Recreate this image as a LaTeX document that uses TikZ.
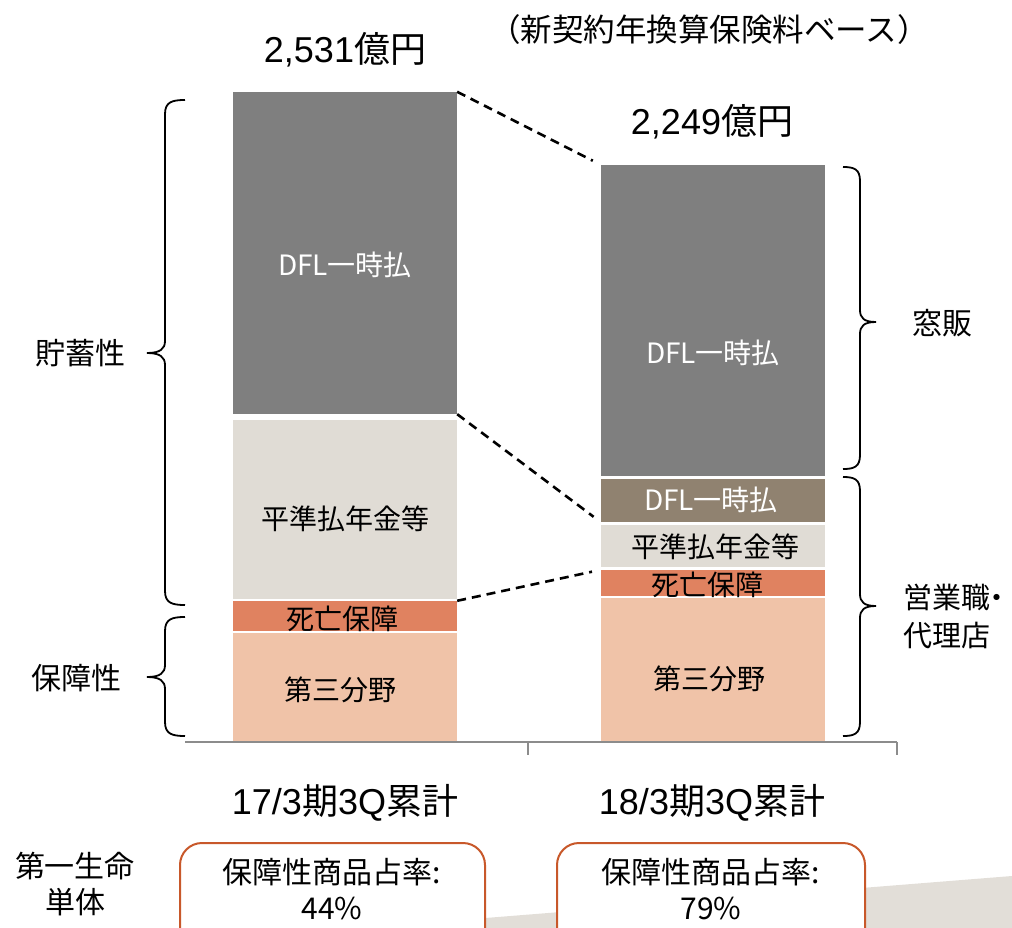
\documentclass[tikz,border=0pt]{standalone}
\usepackage{fontspec}
\setmainfont{Liberation Sans}
\newfontfamily\jp{Noto Sans CJK JP}
\definecolor{cgray}{HTML}{7F7F7F}
\definecolor{cbrown}{HTML}{908270}
\definecolor{clight}{HTML}{E0DCD5}
\definecolor{corange}{HTML}{E08260}
\definecolor{cpeach}{HTML}{F0C3A8}
\definecolor{cbox}{HTML}{C8582A}
\definecolor{cwedge}{HTML}{E2DED8}
\definecolor{caxis}{HTML}{8C8C8C}
\newcommand\bracL[3]{%
 \draw[bracestyle] (185,#1) .. controls (172,#1) and (165,#1+2) .. (165,#1+14) -- (165,#2-12) .. controls (165,#2-4) and (160,#2) .. (147,#2) .. controls (160,#2) and (165,#2+4) .. (165,#2+12) -- (165,#3-14) .. controls (165,#3-2) and (172,#3) .. (185,#3);}
\newcommand\bracR[3]{%
 \draw[bracestyle] (843,#1) .. controls (854,#1) and (860,#1+2) .. (860,#1+14) -- (860,#2-12) .. controls (860,#2-4) and (864,#2) .. (876,#2) .. controls (864,#2) and (860,#2+4) .. (860,#2+12) -- (860,#3-14) .. controls (860,#3-2) and (854,#3) .. (843,#3);}
\begin{document}
\begin{tikzpicture}[x=1pt,y=-1pt,
  bar/.style={rectangle,inner sep=0pt,minimum width=224pt,draw=none},
  lbl/.style={inner sep=0pt,font=\jp\fontsize{28}{32}\selectfont,text=black},
  side/.style={inner sep=0pt,font=\jp\fontsize{30}{36}\selectfont,align=center},
  big/.style={inner sep=0pt,font=\fontsize{36}{42}\selectfont},
  dashline/.style={black,line width=2.6pt,dash pattern=on 9pt off 6pt,shorten >=9pt},
  bracestyle/.style={black,line width=1.8pt},
  infobox/.style={draw=cbox,line width=2pt,fill=white,rounded corners=22pt}]
\useasboundingbox (0,0) rectangle (1012,928);
\clip (0,0) rectangle (1012,928);
% background wedge
\fill[cwedge] (360,928) -- (1012,876) -- (1012,940) -- (360,940) -- cycle;
% left bar
\node[bar,fill=cgray,minimum height=322pt] (LG) at (345,253) {};
\node[bar,fill=clight,minimum height=179pt] (LL) at (345,509.5) {};
\node[bar,fill=corange,minimum height=30pt] (LO) at (345,616) {};
\node[bar,fill=cpeach,minimum height=109pt] (LP) at (345,687.5) {};
% right bar
\node[bar,fill=cgray,minimum height=311pt] (RG) at (713,320.5) {};
\node[bar,fill=cbrown,minimum height=43pt] (RB) at (713,500.5) {};
\node[bar,fill=clight,minimum height=42pt] (RL) at (713,546) {};
\node[bar,fill=corange,minimum height=26pt] (RO) at (713,583) {};
\node[bar,fill=cpeach,minimum height=144pt] (RP) at (713,670) {};
% bar labels
\node[lbl,text=white] (tLG) at (345,265) {DFL一時払};
\node[lbl] (tLL) at (345,519) {平準払年金等};
\node[lbl] (tLO) at (342,619) {死亡保障};
\node[lbl] (tLP) at (340,690) {第三分野};
\node[lbl,text=white] (tRG) at (713,353) {DFL一時払};
\node[lbl,text=white] (tRB) at (711,500) {DFL一時払};
\node[lbl] (tRL) at (715,547) {平準払年金等};
\node[lbl] (tRO) at (707,585) {死亡保障};
\node[lbl] (tRP) at (709,679) {第三分野};
% dashed connectors
\draw[dashline] (LG.north east) -- (RG.north west);
\draw[dashline] (LG.south east) -- (RB.south west);
\draw[dashline] (LO.north east) -- (RO.north west);
% axis
\coordinate (ax0) at (185,742);
\coordinate (ax1) at (897,742);
\coordinate (tk1) at (528,742);
\coordinate (tk1b) at (528,755);
\coordinate (tk2b) at (897,755);
\draw[caxis,line width=2.2pt] (ax0) -- (ax1);
\draw[caxis,line width=1.5pt] (tk1) -- (tk1b);
\draw[caxis,line width=1.5pt] (ax1) -- (tk2b);
% braces
\bracL{100}{353}{605}
\bracL{617}{677}{736}
\bracR{167}{322}{469}
\bracR{477}{606}{736}
% side labels
\node[side] (s1) at (80,353) {貯蓄性};
\node[side] (s2) at (76,678) {保障性};
\node[side] (s3) at (942,323) {窓販};
\node[side,align=left,anchor=west,font=\jp\fontsize{29}{38}\selectfont] (s4) at (903,616) {営業職\kern-8pt・\\代理店};
% totals
\node[big] (tot1) at (345,50) {2,531{\jp 億円}};
\node[big] (tot2) at (712,122) {2,249{\jp 億円}};
\node[inner sep=0pt,font=\jp\fontsize{31.5}{36}\selectfont] (unit) at (709,30) {（新契約年換算保険料ベース）};
% period labels
\node[big] (p1) at (345,803) {17/3{\jp 期}3Q{\jp 累計}};
\node[big] (p2) at (712,803) {18/3{\jp 期}3Q{\jp 累計}};
% company label
\node[side] (co) at (75,884) {第一生命\\単体};
% info boxes
\node[infobox,minimum width=305pt,minimum height=110pt,inner sep=0pt] (b1) at (332.5,898) {};
\node[infobox,minimum width=308pt,minimum height=110pt,inner sep=0pt] (b2) at (711,898) {};
\node[side] (bt1) at (332,889) {保障性商品占率:\\44\%};
\node[side] (bt2) at (711,889) {保障性商品占率:\\79\%};
\end{tikzpicture}
\end{document}
